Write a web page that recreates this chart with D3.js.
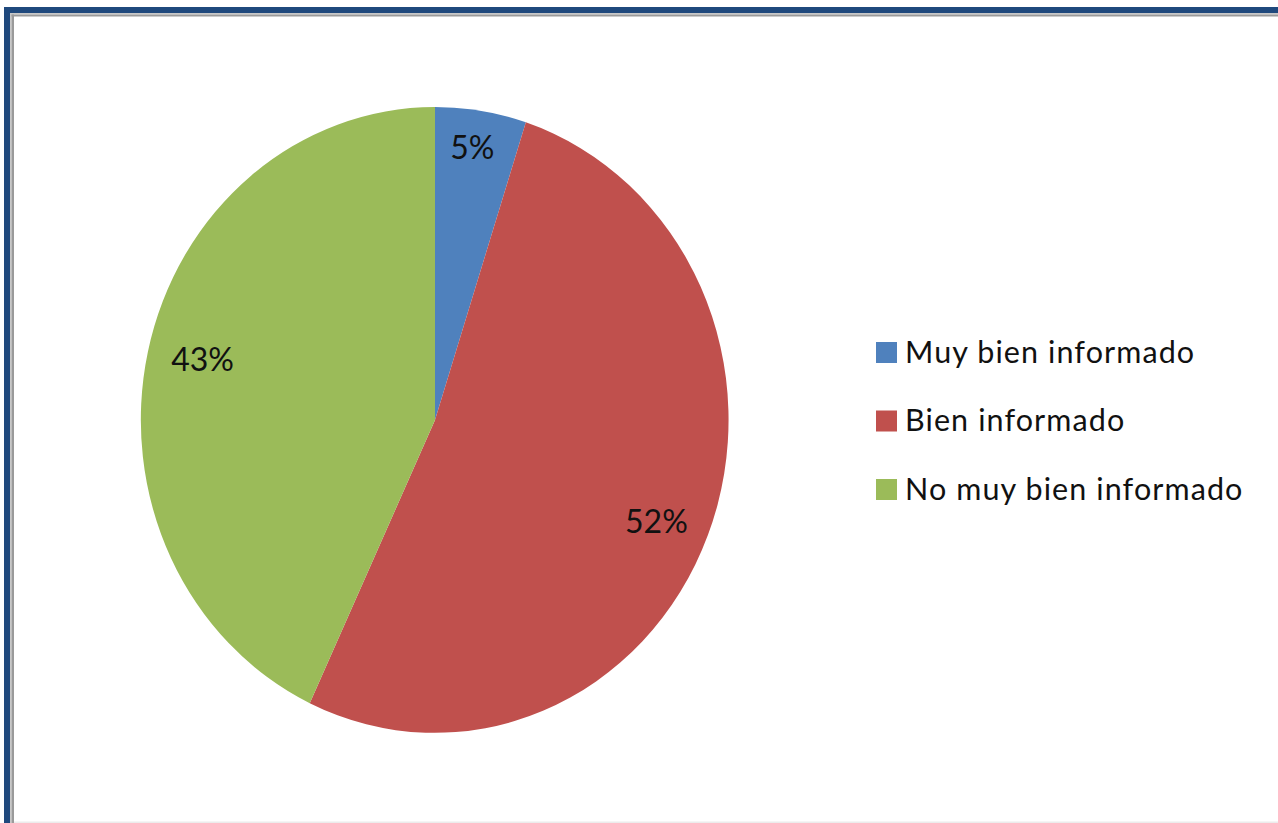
<!DOCTYPE html>
<html>
<head>
<meta charset="utf-8">
<script src="https://cdn.jsdelivr.net/npm/d3@7"></script>
<style>
  html, body { margin: 0; padding: 0; background: #fff; }
  svg { display: block; }
</style>
</head>
<body>
<svg id="chart" width="1278" height="823"></svg>
<script>
// Survey answers and their shares (percent)
const categories = ["Muy bien informado", "Bien informado", "No muy bien informado"];
const values = [5, 52, 43];
const labels = ["5%", "52%", "43%"];
const colors = ["#4F81BD", "#C0504D", "#9BBB59"];

const svg = d3.select("#chart");
const W = 1278, H = 823;

// Frame: dark blue outer band with a gray inner bevel
svg.append("rect").attr("x", 0).attr("y", 0).attr("width", W).attr("height", H).attr("fill", "#fff");
svg.append("rect").attr("x", 4).attr("y", 7).attr("width", W).attr("height", 6).attr("fill", "#1F497D");
svg.append("rect").attr("x", 4).attr("y", 7).attr("width", 6).attr("height", H).attr("fill", "#1F497D");
svg.append("rect").attr("x", 10).attr("y", 13).attr("width", W).attr("height", 1.5).attr("fill", "#c8c8c8");
svg.append("rect").attr("x", 10).attr("y", 13).attr("width", 1.5).attr("height", H).attr("fill", "#c8c8c8");
svg.append("rect").attr("x", 11.5).attr("y", 14.5).attr("width", W).attr("height", 2).attr("fill", "#9a9a9a");
svg.append("rect").attr("x", 11.5).attr("y", 14.5).attr("width", 2.5).attr("height", H).attr("fill", "#9a9a9a");
svg.append("rect").attr("x", 14).attr("y", 821.5).attr("width", W).attr("height", 1.5).attr("fill", "#ececec");

// Pie (slightly taller than wide): unit arcs scaled to the ellipse radii
const cx = 435, cy = 420, rx = 294, ry = 313;
const pie = d3.pie().sort(null).value(d => d)(values);
const arc = d3.arc().innerRadius(0).outerRadius(1);

const g = svg.append("g").attr("transform", `translate(${cx},${cy})`);
g.selectAll("path.slice")
  .data(pie)
  .join("path")
  .attr("class", "slice")
  .attr("transform", `scale(${rx},${ry})`)
  .attr("d", arc)
  .attr("fill", (d, i) => colors[i]);

// Percentage labels inside each slice, placed along the slice's mid-angle
const labelRx = 0.81, labelRy = 0.88;
const mid = d => (d.startAngle + d.endAngle) / 2;
g.selectAll("text.pct")
  .data(pie)
  .join("text")
  .attr("class", "pct")
  .attr("x", d => Math.sin(mid(d)) * labelRx * rx)
  .attr("y", d => -Math.cos(mid(d)) * labelRy * ry)
  .attr("dy", "0.36em")
  .attr("text-anchor", "middle")
  .attr("font-family", "Lato, 'Open Sans', sans-serif")
  .attr("font-size", 32)
  .attr("fill", "#111")
  .text((d, i) => labels[i]);

// Legend
const legend = svg.append("g").attr("transform", "translate(876,342)");
const rowH = 68.5;
const rows = legend.selectAll("g.row")
  .data(categories)
  .join("g")
  .attr("class", "row")
  .attr("transform", (d, i) => `translate(0,${i * rowH})`);
rows.append("rect")
  .attr("width", 21).attr("height", 21)
  .attr("fill", (d, i) => colors[i]);
rows.append("text")
  .attr("x", 29)
  .attr("y", 20.5)
  .attr("font-family", "Lato, 'Open Sans', sans-serif")
  .attr("font-size", 30.5)
  .attr("letter-spacing", 1.1)
  .attr("fill", "#111")
  .text(d => d);
</script>
</body>
</html>
